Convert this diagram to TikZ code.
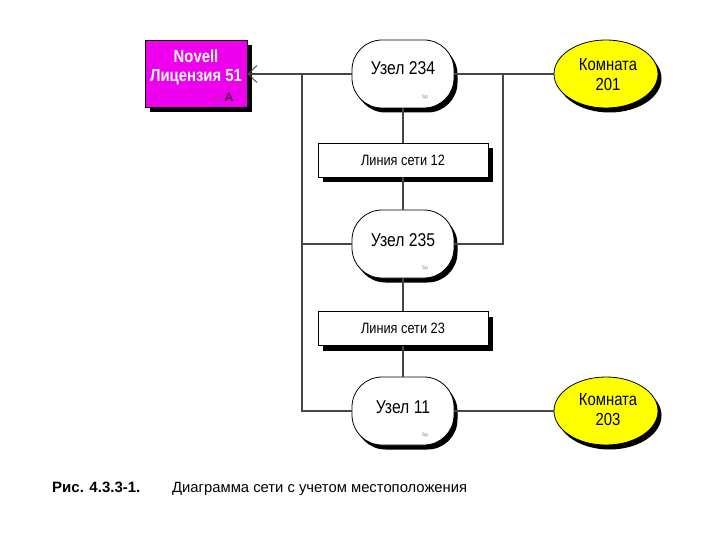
\documentclass[tikz,border=0pt]{standalone}
\usepackage{fontspec}
\setmainfont{Liberation Sans}
\newfontfamily\narrowfont{Liberation Sans}[FakeStretch=0.85]
\usetikzlibrary{shapes.geometric,shadows,arrows.meta}
\definecolor{magentabox}{RGB}{238,0,238}
\definecolor{yellowbox}{RGB}{255,255,0}
\definecolor{linegray}{RGB}{70,70,70}
\tikzset{
  uzel/.style={draw=black, fill=white, rounded corners=30pt, minimum width=102pt, minimum height=68pt, line width=0.8pt,
    drop shadow={shadow xshift=3.5pt, shadow yshift=-4.5pt, fill=black, opacity=1}},
  uzeltext/.style={font=\narrowfont\fontsize{18.5}{20}\selectfont, inner sep=0pt},
  sptext/.style={font=\fontsize{5}{6}\selectfont, text=gray, inner sep=0pt},
  komnata/.style={ellipse, draw=black, fill=yellowbox, minimum width=104pt, minimum height=68pt, line width=0.8pt,
    drop shadow={shadow xshift=3.5pt, shadow yshift=-4.5pt, fill=black, opacity=1}},
  komtext/.style={font=\narrowfont\fontsize{17.5}{20}\selectfont, align=center, inner sep=0pt},
  liniya/.style={draw=black, fill=white, minimum width=170pt, minimum height=34pt, line width=0.6pt,
    drop shadow={shadow xshift=5pt, shadow yshift=-5pt, fill=black, opacity=1},
    font=\narrowfont\fontsize{15}{17}\selectfont},
  novell/.style={draw=black, fill=magentabox, minimum width=102pt, minimum height=67pt, line width=0.6pt,
    drop shadow={shadow xshift=5pt, shadow yshift=-5pt, fill=black, opacity=1}},
  noveltext/.style={font=\bfseries\narrowfont\fontsize{17.5}{19}\selectfont, text=white, align=center, inner sep=0pt},
  conn/.style={draw=linegray, line width=1.1pt},
  captionbold/.style={font=\bfseries\fontsize{15}{17}\selectfont, anchor=base west, inner sep=0pt},
  captiontext/.style={font=\fontsize{14.8}{17}\selectfont, anchor=base west, inner sep=0pt}
}
\begin{document}
\begin{tikzpicture}[x=1pt,y=-1pt]
\useasboundingbox[fill=white] (0,0) rectangle (720,540);
% shapes
\node[novell] (nov) at (196,74) {};
\node[uzel] (u234) at (403,74) {};
\node[uzel] (u235) at (403,244) {};
\node[uzel] (u11) at (403,411) {};
\node[liniya] (l12) at (403,160) {Линия сети 12};
\node[liniya] (l23) at (403,328.5) {Линия сети 23};
\node[komnata] (k201) at (606,74) {};
\node[komnata] (k203) at (606,411) {};
% texts
\node[uzeltext] (u234t) at (403,68) {Узел 234};
\node[uzeltext] (u235t) at (403,240) {Узел 235};
\node[uzeltext] (u11t) at (403,407) {Узел 11};
\node[sptext] (u234s) at (425,97) {Sp};
\node[sptext] (u235s) at (425,268) {Sp};
\node[sptext] (u11s) at (425,435) {Sp};
\node[komtext] (k201t) at (608,75) {Комната\\201};
\node[komtext] (k203t) at (608,410) {Комната\\203};
\node[noveltext] (novt) at (196,67) {Novell\\Лицензия 51};
\node[font=\fontsize{5}{6}\selectfont, text=black!60, inner sep=0pt] (novs) at (218,99) {Se};
\node[font=\bfseries\fontsize{12}{13}\selectfont, text=black!70!magentabox, inner sep=0pt] (nova) at (229,97) {A};
% junction coordinates
\coordinate (jl) at (302,74);
\coordinate (jr) at (503,74);
% connectors
\draw[conn, -{Straight Barb[length=9pt,width=17pt,line width=0.9pt]}] (u234.west) -- (nov.east);
\draw[conn] (u234.east) -- (k201.west);
\draw[conn] (u234.south) -- (l12.north);
\draw[conn] (l12.south) -- (u235.north);
\draw[conn] (u235.south) -- (l23.north);
\draw[conn] (l23.south) -- (u11.north);
\draw[conn] (jl) |- (u11.west);
\draw[conn] (jl |- u235.west) -- (u235.west);
\draw[conn] (jr) |- (u235.east);
\draw[conn] (u11.east) -- (k203.west);
% caption
\node[captionbold] (capn) at (52,492) {Рис. 4.3.3-1.};
\node[captiontext] (capt) at (172,492) {Диаграмма сети с учетом местоположения};
\end{tikzpicture}
\end{document}
